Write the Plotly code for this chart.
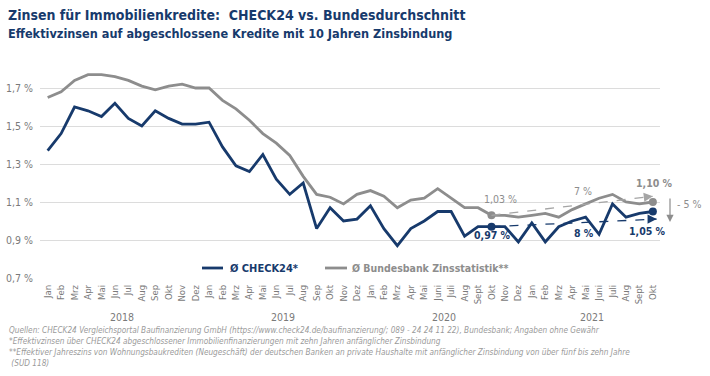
import plotly.graph_objects as go

months = ["Jan","Feb","Mrz","Apr","Mai","Jun","Jul","Aug","Sep","Okt","Nov","Dez",
          "Jan","Feb","Mrz","Apr","Mai","Jun","Jul","Aug","Sep","Okt","Nov","Dez",
          "Jan","Feb","Mrz","Apr","Mai","Juni","Juli","Aug","Sept","Okt","Nov","Dez",
          "Jan","Feb","Mrz","Apr","Mai","Juni","Juli","Aug","Sept","Okt"]
years = ["2018", "2019", "2020", "2021"]
year_centers = [5.5, 17.5, 29.5, 40.5]

check24 = [1.37,1.46,1.60,1.58,1.55,1.62,1.54,1.50,1.58,1.54,1.51,1.51,
           1.52,1.39,1.29,1.26,1.35,1.22,1.14,1.20,0.96,1.07,1.00,1.01,
           1.08,0.96,0.87,0.96,1.00,1.05,1.05,0.92,0.97,0.97,0.97,0.89,
           0.99,0.89,0.97,1.00,1.02,0.93,1.09,1.02,1.04,1.05]
bundesbank = [1.65,1.68,1.74,1.77,1.77,1.76,1.74,1.71,1.69,1.71,1.72,1.70,
              1.70,1.635,1.59,1.53,1.46,1.41,1.345,1.235,1.14,1.125,1.09,1.14,
              1.16,1.13,1.07,1.11,1.12,1.17,1.12,1.07,1.07,1.03,1.03,1.02,
              1.03,1.04,1.02,1.06,1.09,1.12,1.14,1.10,1.09,1.10]

y_ticks = [0.7, 0.9, 1.1, 1.3, 1.5, 1.7]
y_ticktext = ["0,7 %", "0,9 %", "1,1 %", "1,3 %", "1,5 %", "1,7 %"]

start_idx, end_idx = 33, 45
trend_end_gray = 1.13
trend_end_blue = 1.01
trend_end_x_blue = 45.28

NAVY = "#173a6c"
GRAY = "#8d8d8d"
LGRAY = "#a5a5a5"
FONT = "Liberation Sans Narrow, DejaVu Sans Condensed, Arial Narrow, Open Sans, sans-serif"

W, H = 710, 376
L, R, T, B = 40, 50, 69, 98
PW, PH = W - L - R, H - T - B

def px_x(p):
    return (p - L) / PW

def px_y(p):
    return (H - B - p) / PH

x = list(range(len(months)))

fig = go.Figure()
fig.add_trace(go.Scatter(x=x, y=check24, mode="lines", name="Ø CHECK24*",
                         line=dict(color=NAVY, width=2.8)))
fig.add_trace(go.Scatter(x=x, y=bundesbank, mode="lines", name="Ø Bundesbank Zinsstatistik**",
                         line=dict(color=GRAY, width=2.8)))
fig.add_trace(go.Scatter(x=[start_idx, end_idx], y=[bundesbank[start_idx], bundesbank[end_idx]],
                         mode="markers", marker=dict(color=GRAY, size=8), showlegend=False))
fig.add_trace(go.Scatter(x=[start_idx, end_idx], y=[check24[start_idx], check24[end_idx]],
                         mode="markers", marker=dict(color=NAVY, size=8), showlegend=False))

shapes = []
shapes.append(dict(type="line", xref="x", yref="y", x0=start_idx, y0=bundesbank[start_idx],
                   x1=end_idx, y1=trend_end_gray, line=dict(color=LGRAY, width=1.3, dash="dash")))
shapes.append(dict(type="line", xref="x", yref="y", x0=start_idx, y0=check24[start_idx],
                   x1=trend_end_x_blue, y1=trend_end_blue, line=dict(color=NAVY, width=1.3, dash="dash")))
shapes.append(dict(type="line", xref="paper", yref="paper", x0=px_x(202), x1=px_x(223),
                   y0=px_y(268), y1=px_y(268), line=dict(color=NAVY, width=2.8)))
shapes.append(dict(type="line", xref="paper", yref="paper", x0=px_x(325), x1=px_x(347),
                   y0=px_y(268), y1=px_y(268), line=dict(color=GRAY, width=2.8)))

ann = []
ann.append(dict(x=end_idx, y=trend_end_gray, xref="x", yref="y", ax=-9, ay=1, text="",
                showarrow=True, arrowhead=2, arrowsize=1.4, arrowwidth=1.3, arrowcolor=LGRAY))
ann.append(dict(x=trend_end_x_blue, y=trend_end_blue, xref="x", yref="y", ax=-9, ay=0, text="",
                showarrow=True, arrowhead=2, arrowsize=1.4, arrowwidth=1.3, arrowcolor=NAVY))
ann.append(dict(x=px_x(670), y=px_y(222), xref="paper", yref="paper", ax=0, ay=-25, text="",
                showarrow=True, arrowhead=2, arrowsize=1.2, arrowwidth=1.2, arrowcolor=GRAY))

def lab(text, px, py, color, bold=False, size=11, xanchor="center", style="normal"):
    ann.append(dict(x=px_x(px), y=px_y(py), xref="paper", yref="paper", text=text,
                    showarrow=False, xanchor=xanchor, yanchor="middle",
                    font=dict(family=FONT, size=size, color=color, style=style,
                              weight="bold" if bold else "normal")))

lab("1,03 %", 500, 199, GRAY, size=10.5)
lab("0,97 %", 493, 235, NAVY, bold=True, size=10.5)
lab("7 %", 583, 191, GRAY, size=10.5)
lab("8 %", 584, 233, NAVY, bold=True, size=10.5)
lab("1,10 %", 654, 183, GRAY, bold=True, size=10.5)
lab("1,05 %", 647, 231, NAVY, bold=True, size=10.5)
lab("- 5 %", 675, 204, GRAY, size=10.5, xanchor="left")

lab("Ø CHECK24*", 228, 268, NAVY, bold=True, size=11, xanchor="left")
lab("Ø Bundesbank Zinsstatistik**", 350, 268, GRAY, bold=True, size=10.5, xanchor="left")

lab("Zinsen für Immobilienkredite:  CHECK24 vs. Bundesdurchschnitt", 6, 15, NAVY, bold=True, size=14, xanchor="left")
lab("Effektivzinsen auf abgeschlossene Kredite mit 10 Jahren Zinsbindung", 6, 34, NAVY, bold=True, size=12.6, xanchor="left")

for yr, c in zip(years, year_centers):
    ann.append(dict(x=c, y=px_y(317), xref="x", yref="paper", text=yr, showarrow=False,
                    yanchor="middle", font=dict(family=FONT, size=10.5, color="#7a7a7a")))

foot = ["Quellen: CHECK24 Vergleichsportal Baufinanzierung GmbH (https://www.check24.de/baufinanzierung/; 089 - 24 24 11 22), Bundesbank; Angaben ohne Gewähr",
        "*Effektivzinsen über CHECK24 abgeschlossener Immobilienfinanzierungen mit zehn Jahren anfänglicher Zinsbindung",
        "**Effektiver Jahreszins von Wohnungsbaukrediten (Neugeschäft) der deutschen Banken an private Haushalte mit anfänglicher Zinsbindung von über fünf bis zehn Jahre",
        " (SUD 118)"]
foot_y = [330, 341, 352, 363]
for t, py in zip(foot, foot_y):
    lab(t, 7, py, "#9a9a9a", size=8.2, xanchor="left", style="italic")

fig.update_layout(
    width=W, height=H, margin=dict(l=L, r=R, t=T, b=B, autoexpand=False),
    paper_bgcolor="white", plot_bgcolor="white", showlegend=False,
    shapes=shapes, annotations=ann,
    font=dict(family=FONT, color="#7a7a7a"),
)
fig.update_xaxes(range=[-0.57, 45.53], tickvals=x, ticktext=months, tickangle=-90,
                 showgrid=False, zeroline=False, showline=False, ticks="", automargin=False,
                 tickfont=dict(family=FONT, size=9.5, color="#7a7a7a"), ticklabelstandoff=4)
fig.update_yaxes(range=[0.7, 1.8], tickvals=y_ticks, ticktext=y_ticktext, automargin=False,
                 showgrid=True, gridcolor="#dcdcdc", gridwidth=1, zeroline=False, showline=False,
                 tickfont=dict(family=FONT, size=10.5, color="#7a7a7a"), ticklabelstandoff=6)

fig.write_html("out.html", config={"displayModeBar": False},
               post_script="document.body.style.margin='0';document.body.style.overflow='hidden';")
